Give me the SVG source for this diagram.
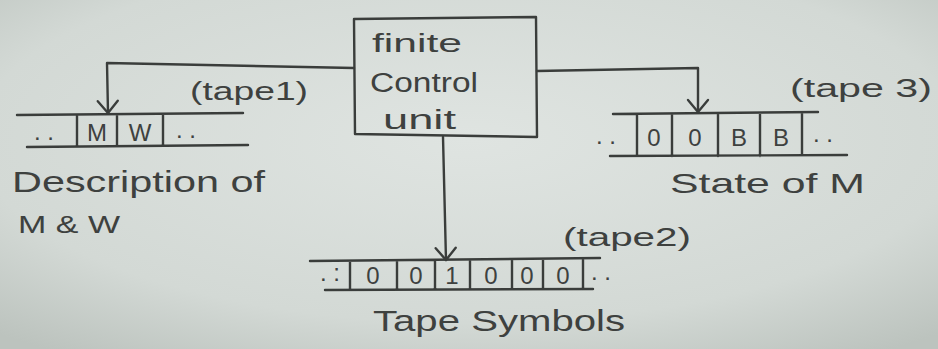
<svg xmlns="http://www.w3.org/2000/svg" width="938" height="349" viewBox="0 0 938 349">
  <defs>
    <radialGradient id="paper" cx="0.5" cy="0.4" r="0.75">
      <stop offset="0" stop-color="#dfe4e1"/>
      <stop offset="0.7" stop-color="#d3d9d5"/>
      <stop offset="1" stop-color="#bcc3be"/>
    </radialGradient>
    <marker id="vee" viewBox="0 0 16 24" refX="14" refY="12" markerWidth="16" markerHeight="24" markerUnits="userSpaceOnUse" orient="auto">
      <path d="M2,2 L14,12 L2,22" fill="none" stroke="#3a3d3b" stroke-width="2.4" stroke-linecap="round" stroke-linejoin="round"/>
    </marker>
    <style>
      .ln{fill:none;stroke:#3a3d3b;stroke-width:2.4;stroke-linecap:round;stroke-linejoin:round}
      .tx{font-family:"Liberation Sans","DejaVu Sans",sans-serif;fill:#3e413f}
      .cell{font-family:"Liberation Sans","DejaVu Sans",sans-serif;fill:#3e413f;font-size:24px;text-anchor:middle}
    </style>
  </defs>
  <rect x="0" y="0" width="938" height="349" fill="url(#paper)"/>

  <g id="control-unit">
    <path class="ln" d="M354,19 L536,17 L537,137 L355,134 Z"/>
    <text class="tx" x="372" y="52" font-size="26" textLength="90" lengthAdjust="spacingAndGlyphs">finite</text>
    <text class="tx" x="370" y="92" font-size="27" textLength="108" lengthAdjust="spacingAndGlyphs">Control</text>
    <text class="tx" x="383" y="129" font-size="27" textLength="73" lengthAdjust="spacingAndGlyphs">unit</text>
  </g>

  <g id="tape1">
    <path class="ln" d="M17,115 L243,113 M27,147 L248,145 M77,115 L77,146 M117,115 L117,146 M163,114 L163,146"/>
    <text class="cell" x="44" y="140">. .</text>
    <text class="cell" x="97" y="141">M</text>
    <text class="cell" x="140" y="141">W</text>
    <text class="cell" x="186" y="138">. .</text>
    <text class="tx" x="190" y="100" font-size="25" textLength="118" lengthAdjust="spacingAndGlyphs">(tape1)</text>
    <text class="tx" x="12" y="192" font-size="30" textLength="253" lengthAdjust="spacingAndGlyphs">Description of</text>
    <text class="tx" x="18" y="233" font-size="23" textLength="102" lengthAdjust="spacingAndGlyphs">M &amp; W</text>
  </g>

  <g id="tape2">
    <path class="ln" d="M310,261 L600,258 M325,290 L593,289 M350,262 L350,289 M397,261 L397,289 M435,261 L435,289 M470,260 L470,289 M512,260 L512,289 M543,260 L543,289 M583,259 L583,289"/>
    <text class="cell" x="330" y="281">. :</text>
    <text class="cell" x="373" y="284">0</text>
    <text class="cell" x="416" y="284">0</text>
    <text class="cell" x="452" y="284">1</text>
    <text class="cell" x="491" y="284">0</text>
    <text class="cell" x="527" y="284">0</text>
    <text class="cell" x="563" y="284">0</text>
    <text class="cell" x="601" y="280">. .</text>
    <text class="tx" x="563" y="246" font-size="25" textLength="128" lengthAdjust="spacingAndGlyphs">(tape2)</text>
    <text class="tx" x="373" y="331" font-size="30" textLength="252" lengthAdjust="spacingAndGlyphs">Tape Symbols</text>
  </g>

  <g id="tape3">
    <path class="ln" d="M613,114 L818,112 M610,156 L847,155 M637,114 L637,156 M672,114 L672,156 M718,113 L718,156 M760,113 L760,156 M802,113 L802,155"/>
    <text class="cell" x="606" y="144">. .</text>
    <text class="cell" x="654" y="146">0</text>
    <text class="cell" x="695" y="146">0</text>
    <text class="cell" x="739" y="146">B</text>
    <text class="cell" x="781" y="146">B</text>
    <text class="cell" x="823" y="142">. .</text>
    <text class="tx" x="790" y="97" font-size="26" textLength="142" lengthAdjust="spacingAndGlyphs">(tape 3)</text>
    <text class="tx" x="670" y="193" font-size="28" textLength="195" lengthAdjust="spacingAndGlyphs">State of M</text>
  </g>

  <g id="connectors">
    <path class="ln" d="M354,68 L107,63 L108,113" marker-end="url(#vee)"/>
    <path class="ln" d="M537,71 L698,68 L698,112" marker-end="url(#vee)"/>
    <path class="ln" d="M443,137 L446,260" marker-end="url(#vee)"/>
  </g>
</svg>
